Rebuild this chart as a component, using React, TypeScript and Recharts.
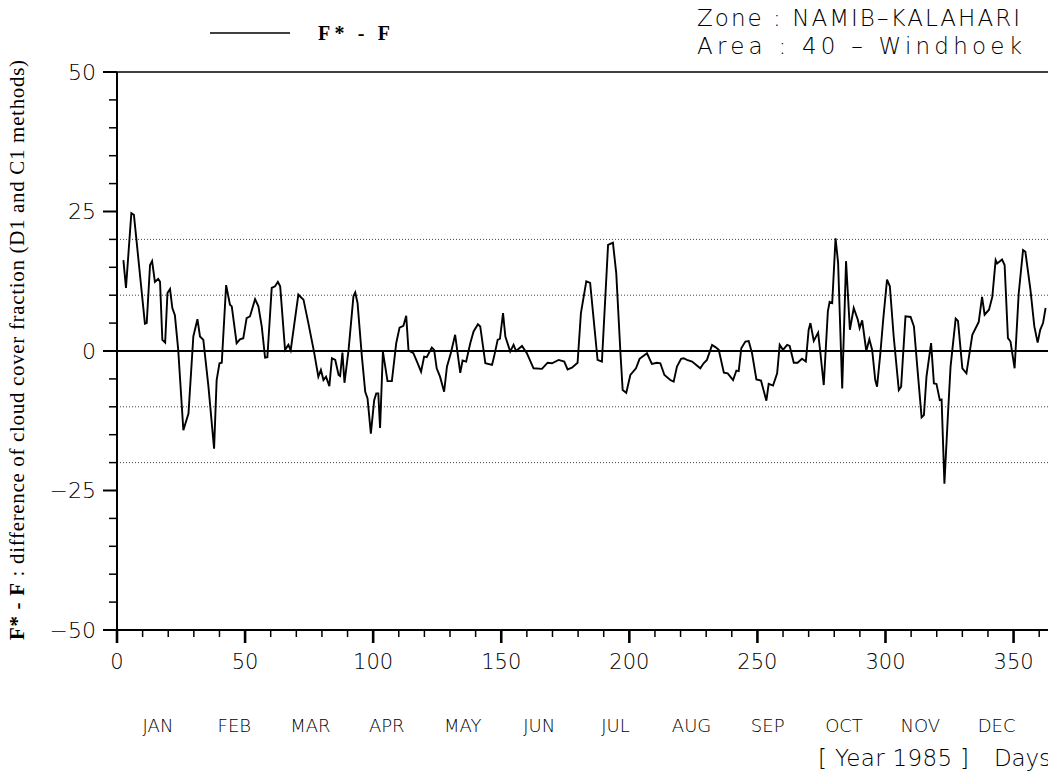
import React from "react";
import { LineChart, Line, XAxis, YAxis, ReferenceLine } from "recharts";

// day of year 1985 and F* - F (percent)
const days = [
  2.5, 3.5, 5.6, 6.6, 10.9, 11.6, 12.9, 13.7, 14.8, 16.1, 16.8, 17.7, 18.8, 19.7, 20.7, 21.6, 22.6, 23.9, 25.9, 27.9,
  29.8, 31.4, 32.4, 33.7, 35.7, 37.9, 38.9, 40.0, 40.9, 42.6, 44.1, 44.8, 46.7, 48.0, 49.3, 50.6, 51.9, 53.9, 55.2, 56.5,
  57.8, 58.7, 60.4, 61.7, 62.8, 63.7, 65.6, 66.9, 67.8, 70.8, 72.1, 72.8, 74.7, 76.9, 78.6, 79.6, 80.6, 81.6, 82.9, 83.9,
  85.2, 86.5, 87.1, 88.0, 88.8, 90.4, 92.3, 93.0, 93.9, 95.6, 96.9, 97.8, 99.1, 100.4, 101.2, 102.0, 102.7, 103.8, 105.6, 107.3,
  109.0, 110.3, 111.8, 112.9, 113.8, 115.7, 117.1, 118.7, 119.9, 120.9, 122.9, 123.8, 124.8, 126.1, 127.7, 128.8, 130.3, 132.0, 134.0, 134.9,
  136.3, 137.9, 139.2, 140.9, 141.8, 143.8, 146.4, 147.2, 148.6, 149.5, 150.7, 151.6, 153.5, 154.8, 155.8, 158.1, 160.0, 162.6, 165.9, 168.1,
  169.8, 172.4, 174.6, 175.9, 177.6, 179.8, 181.1, 183.2, 184.7, 187.6, 189.3, 191.7, 193.6, 194.9, 196.5, 197.4, 198.8, 200.4, 202.6, 204.0,
  206.9, 208.8, 210.8, 212.1, 213.7, 216.0, 217.3, 218.6, 220.2, 221.2, 222.5, 224.5, 227.7, 229.0, 230.3, 232.3, 233.6, 234.9, 236.9, 238.4,
  240.5, 241.8, 242.7, 243.7, 245.3, 246.6, 247.9, 249.6, 251.4, 253.5, 254.4, 256.1, 257.7, 258.7, 260.0, 261.6, 262.6, 264.2, 265.7, 267.4,
  268.9, 270.0, 270.7, 272.0, 273.7, 274.6, 275.9, 277.5, 278.2, 279.2, 280.5, 281.5, 283.1, 284.6, 286.1, 287.6, 289.2, 289.9, 290.9, 292.5,
  293.7, 294.8, 296.0, 296.7, 298.0, 299.1, 300.6, 301.7, 303.2, 305.2, 306.1, 307.8, 309.8, 311.1, 312.4, 314.1, 315.0, 316.0, 317.8, 318.9,
  319.9, 321.2, 321.9, 323.0, 324.4, 325.4, 327.4, 328.3, 330.0, 331.6, 333.9, 336.4, 337.7, 338.7, 340.4, 341.7, 343.0, 343.6, 345.5, 346.5,
  347.8, 348.8, 350.4, 352.0, 353.7, 354.6, 356.6, 358.1, 359.4, 360.4, 361.5, 362.5,
];
const diffs = [
  16.3, 11.3, 24.7, 24.4, 4.9, 5.0, 15.4, 16.1, 12.4, 12.9, 12.4, 2.0, 1.5, 10.4, 11.1, 7.7, 6.4, 0.2, -14.2, -11.2,
  2.6, 5.7, 2.6, 2.0, -6.4, -17.5, -5.2, -2.2, -2.1, 11.8, 8.3, 8.0, 1.4, 2.1, 2.3, 5.9, 6.2, 9.3, 8.0, 4.4,
  -1.2, -1.1, 11.3, 11.6, 12.4, 11.6, 0.2, 1.1, 0.1, 10.1, 9.5, 9.2, 5.0, -0.1, -4.6, -3.4, -5.2, -4.6, -6.3, -1.3,
  -1.6, -4.3, -4.5, -0.3, -5.7, 0.2, 9.8, 10.5, 8.6, -1.0, -7.3, -8.5, -14.8, -8.8, -7.6, -7.6, -13.8, -0.1, -5.4, -5.4,
  1.4, 4.2, 4.5, 6.3, 0.1, -0.4, -1.9, -3.7, -1.0, -1.1, 0.6, 0.2, -3.1, -4.6, -7.3, -2.8, -0.4, 2.9, -3.9, -1.7,
  -1.9, 1.4, 3.5, 4.8, 4.4, -2.2, -2.5, -1.0, 2.0, 2.2, 6.8, 2.6, -0.1, 1.1, 0.0, 0.9, -0.4, -3.1, -3.2, -2.1,
  -2.2, -1.6, -1.9, -3.3, -3.0, -2.1, 6.8, 12.5, 12.2, -1.6, -1.9, 19.0, 19.4, 13.9, -0.1, -7.0, -7.5, -4.3, -3.1, -1.4,
  -0.4, -2.3, -2.1, -2.2, -4.3, -5.2, -5.5, -2.8, -1.4, -1.3, -1.6, -1.9, -3.1, -2.2, -1.6, 1.1, 0.7, 0.2, -3.9, -4.0,
  -5.2, -3.5, -3.6, 0.5, 1.7, 1.8, -0.4, -5.1, -5.3, -8.9, -5.9, -6.2, -4.0, 1.1, 0.2, 1.1, 0.9, -2.1, -2.1, -1.4,
  -1.9, 3.8, 5.0, 1.8, 3.3, -0.4, -6.1, 7.1, 8.8, 8.6, 20.2, 15.8, -6.7, 16.1, 3.8, 7.7, 5.6, 4.1, 5.5, 0.0,
  2.1, 0.2, -5.2, -6.4, -0.4, 5.6, 12.8, 11.6, 2.6, -7.0, -6.4, 6.2, 6.1, 4.4, -2.8, -11.9, -11.5, -4.6, 1.4, -5.8,
  -5.9, -8.8, -8.7, -23.8, -11.2, -2.8, 5.8, 5.4, -3.1, -4.0, 2.9, 5.2, 9.7, 6.5, 7.4, 9.7, 16.3, 15.7, 16.4, 15.4,
  2.3, 1.7, -3.1, 10.3, 18.1, 17.8, 10.9, 4.4, 1.5, 3.8, 5.0, 7.7,
];

const xTicks = [0, 10, 20, 30, 40, 50, 60, 70, 80, 90, 100, 110, 120, 130, 140, 150, 160, 170, 180, 190, 200,
  210, 220, 230, 240, 250, 260, 270, 280, 290, 300, 310, 320, 330, 340, 350, 360];
const yTicks = [-50, -45, -40, -35, -30, -25, -20, -15, -10, -5, 0, 5, 10, 15, 20, 25, 30, 35, 40, 45, 50];
const gridLevels = [20, 10, -10, -20];
const months = ["JAN", "FEB", "MAR", "APR", "MAY", "JUN", "JUL", "AUG", "SEP", "OCT", "NOV", "DEC"];
const monthDays = [16, 45.8, 75.5, 105.3, 135, 164.8, 194.6, 224.3, 254, 283.8, 313.6, 343.4];

const data = days.map((d, i) => ({ day: d, value: diffs[i] }));

const plotFont = "'DejaVu Sans', sans-serif";
const serifFont = "'Liberation Serif', 'DejaVu Serif', serif";

function XTick({ x, y, payload }: any) {
  const major = payload.value % 50 === 0;
  return (
    <g>
      <line x1={x} x2={x} y1={y} y2={y + (major ? 13 : 7)} stroke="#000" strokeWidth={major ? 2.6 : 1.5} />
      {major && (
        <text x={x} y={y + 32} textAnchor="middle" dominantBaseline="central" fontSize={21} fontFamily={plotFont} fontWeight={200} fill="#000">
          {payload.value}
        </text>
      )}
    </g>
  );
}

function YTick({ x, y, payload }: any) {
  const v = payload.value;
  const major = v % 25 === 0;
  return (
    <g>
      <line x1={x} x2={x - (major ? 14 : 8)} y1={y} y2={y} stroke="#000" strokeWidth={major ? 2 : 1.5} />
      {major && (
        <text x={x - 21} y={y} textAnchor="end" dominantBaseline="central" fontSize={22} fontFamily={plotFont} fontWeight={200} fill="#000">
          {v < 0 ? "\u2212" + Math.abs(v) : v}
        </text>
      )}
    </g>
  );
}

function MonthTick({ x, y, payload }: any) {
  const i = monthDays.indexOf(payload.value);
  return (
    <text x={x} y={y + 45} textAnchor="middle" dominantBaseline="central" fontSize={18} fontFamily={plotFont} fontWeight={200} fill="#000">
      {months[i]}
    </text>
  );
}

export default function App() {
  return (
    <div style={{ position: "relative", width: 1048, height: 769, background: "#fff" }}>
      <LineChart width={1048} height={769} data={data} margin={{ top: 64, right: 4, bottom: 0, left: 0 }}>
        {gridLevels.map((g) => (
          <ReferenceLine key={g} y={g} stroke="#444" strokeWidth={1} strokeDasharray="1 2" />
        ))}
        <ReferenceLine y={0} stroke="#000" strokeWidth={2} />
        <ReferenceLine y={50} stroke="#000" strokeWidth={1.5} />
        <ReferenceLine x={365} stroke="#000" strokeWidth={1.5} />
        <XAxis
          dataKey="day"
          type="number"
          domain={[0, 365]}
          ticks={xTicks}
          interval={0}
          height={50}
          tickSize={0}
          tickMargin={0}
          tickLine={false}
          axisLine={{ stroke: "#000", strokeWidth: 2 }}
          tick={<XTick />}
          allowDataOverflow
        />
        <XAxis
          xAxisId="month"
          dataKey="day"
          type="number"
          domain={[0, 365]}
          ticks={monthDays}
          interval={0}
          height={97}
          tickSize={0}
          tickMargin={0}
          tickLine={false}
          axisLine={false}
          tick={<MonthTick />}
          allowDataOverflow
        />
        <YAxis
          type="number"
          domain={[-50, 50]}
          ticks={yTicks}
          interval={0}
          width={109}
          tickSize={0}
          tickMargin={0}
          tickLine={false}
          axisLine={{ stroke: "#000", strokeWidth: 2 }}
          tick={<YTick />}
          allowDataOverflow
        />
        <Line type="linear" dataKey="value" stroke="#000" strokeWidth={1.9} dot={false} isAnimationActive={false} />
      </LineChart>
      <svg width={1048} height={769} style={{ position: "absolute", left: 0, top: 0, pointerEvents: "none", overflow: "visible" }}>
        <line x1={202} x2={282} y1={25} y2={25} stroke="#000" strokeWidth={1.5} />
        <text x={310} y={25} dominantBaseline="central" fontSize={20} fontWeight={700} fontFamily={serifFont} textLength={72} lengthAdjust="spacing">
          F* - F
        </text>
        <text x={689} y={18} fontSize={23} fontFamily={plotFont} fontWeight={200} textLength={323} lengthAdjust="spacing">
          Zone : NAMIB–KALAHARI
        </text>
        <text x={689} y={46} fontSize={23} fontFamily={plotFont} fontWeight={200} textLength={325} lengthAdjust="spacing">
          Area : 40 – Windhoek
        </text>
        <text transform="translate(16, 342) rotate(-90)" textAnchor="middle" fontSize={21} fontFamily={serifFont} textLength={580} lengthAdjust="spacing">
          <tspan fontWeight={700}>F* - F</tspan>
          <tspan> : difference of cloud cover fraction (D1 and C1 methods)</tspan>
        </text>
        <text x={810} y={758} fontSize={23} fontFamily={plotFont} fontWeight={200} textLength={151} lengthAdjust="spacing">
          [ Year 1985 ]
        </text>
        <text x={986} y={758} fontSize={23} fontFamily={plotFont} fontWeight={200} textLength={57} lengthAdjust="spacing">
          Days
        </text>
      </svg>
    </div>
  );
}
